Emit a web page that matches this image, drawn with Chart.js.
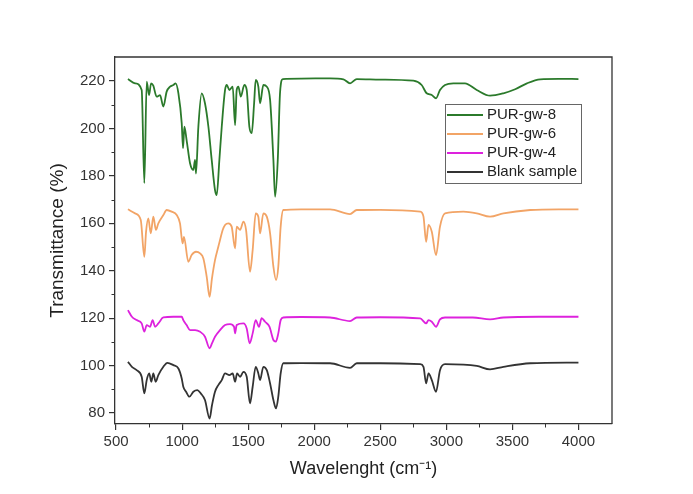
<!DOCTYPE html>
<html>
<head>
<meta charset="utf-8">
<script src="https://cdn.jsdelivr.net/npm/chart.js@4"></script>
<style>
  body { margin: 0; background: #fff; }
  canvas { display: block; }
</style>
</head>
<body>
<canvas id="ftir" width="693" height="494"></canvas>
<script>
// FTIR spectra
const xTicks = [500, 1000, 1500, 2000, 2500, 3000, 3500, 4000];
const yTicks = [80, 100, 120, 140, 160, 180, 200, 220];
const xMinor = [750, 1250, 1750, 2250, 2750, 3250, 3750];
const yMinor = [90, 110, 130, 150, 170, 190, 210];

const seriesNames = ["PUR-gw-8", "PUR-gw-6", "PUR-gw-4", "Blank sample"];
const seriesColors = ["#2b7a2b", "#f2a466", "#dd22dd", "#333333"];

const gw8Wn = [590, 644, 694, 714, 732, 750, 765, 782, 807, 833, 858, 883, 909, 934, 951, 972, 997, 1007, 1017, 1034,
    1060, 1085, 1098, 1105, 1123, 1148, 1173, 1199, 1224, 1249, 1262, 1282, 1300, 1325, 1338, 1358, 1383, 1401, 1413, 1426,
    1444, 1471, 1489, 1509, 1527, 1545, 1557, 1577, 1590, 1615, 1641, 1666, 1691, 1704, 1724, 1741, 1762, 1900, 2120, 2221,
    2271, 2322, 2500, 2750, 2813, 2851, 2890, 2922, 2952, 2990, 3053, 3141, 3230, 3331, 3432, 3521, 3610, 3711, 3850, 4000];
const gw8T = [220.8, 219, 216.2, 176.9, 219.7, 214, 219, 218, 213.4, 214, 209.2, 215.5, 217.6, 218.3, 219, 214.8, 202.2, 191.6, 200.7, 195.1,
    185.3, 182.5, 186.7, 181, 200.7, 214.8, 210.6, 200.7, 186.7, 174, 171.9, 186.7, 200.7, 216.2, 218.3, 216.2, 217.6, 201.4, 216.2, 217.6,
    213.4, 218.3, 216.2, 200.7, 198, 210.6, 220.4, 217.6, 210.6, 218.3, 217.6, 212, 186.7, 171.2, 186.7, 214.8, 220.8, 221, 221.1, 220.7,
    219, 220.8, 220.6, 220.1, 218.3, 214.8, 214.1, 212.7, 216.2, 218.3, 219, 219, 216.2, 213.8, 214.8, 216.5, 219, 220.7, 220.9, 220.8];

const gw6Wn = [590, 644, 687, 714, 727, 744, 763, 782, 802, 820, 858, 883, 921, 959, 984, 1004, 1014, 1047, 1072, 1105,
    1136, 1161, 1186, 1208, 1226, 1249, 1274, 1287, 1307, 1325, 1350, 1375, 1401, 1413, 1439, 1464, 1484, 1514, 1534, 1557,
    1577, 1590, 1615, 1641, 1666, 1691, 1711, 1728, 1746, 1766, 1900, 2120, 2271, 2322, 2500, 2802, 2827, 2847, 2865, 2890,
    2922, 2952, 2990, 3129, 3230, 3331, 3432, 3635, 3850, 4000];
const gw6T = [165.9, 164.2, 161.4, 145.9, 156.4, 162.1, 155.8, 162.8, 157.2, 160, 163.5, 165.6, 164.9, 163.5, 160, 151.5, 154.3, 143.8, 146.6, 148,
    147.3, 145.2, 137.5, 129, 136.8, 144.5, 150.1, 153, 157.2, 159.3, 160, 158.6, 149.4, 158.6, 157.2, 160.7, 157.2, 139.6, 148.7, 164.2,
    162.8, 155.8, 164.2, 162.8, 155.8, 141.7, 136.1, 141.7, 158.6, 165.6, 165.9, 165.9, 163.9, 165.6, 165.7, 164.9, 162.8, 152.2, 159.3, 156.4,
    146.6, 158.6, 164.2, 164.9, 164.2, 162.8, 164.2, 165.6, 165.9, 165.9];

const gw4Wn = [590, 620, 656, 694, 714, 732, 757, 777, 795, 820, 858, 934, 997, 1009, 1034, 1060, 1098, 1136, 1173, 1208,
    1226, 1249, 1287, 1325, 1363, 1393, 1401, 1413, 1464, 1489, 1511, 1534, 1557, 1582, 1602, 1628, 1661, 1691, 1709, 1728,
    1746, 1766, 1900, 2120, 2271, 2322, 2500, 2802, 2847, 2865, 2890, 2922, 2952, 2990, 3200, 3331, 3432, 3700, 4000];
const gw4T = [123.4, 120.6, 119.2, 117.8, 114.3, 117.1, 116.4, 119.2, 116.4, 117.8, 120.3, 120.6, 120.6, 119.2, 117.1, 115, 115, 114.3, 112.2, 107.3,
    109.4, 112.2, 115, 117.1, 117.5, 116.4, 113.6, 117.1, 117.8, 115.7, 109.4, 113.6, 119.2, 116.4, 120, 118.5, 116.4, 110.8, 110.1, 113.6,
    119.2, 120.3, 120.5, 120.3, 118.8, 120.3, 120.4, 119.9, 117.8, 119.2, 118.5, 116.4, 119.5, 120.3, 120.3, 119.5, 120.3, 120.6, 120.6];

const blankWn = [590, 620, 656, 694, 714, 732, 751, 767, 782, 800, 820, 858, 888, 934, 972, 997, 1009, 1030, 1055, 1085,
    1115, 1141, 1173, 1208, 1226, 1249, 1274, 1300, 1325, 1358, 1383, 1401, 1416, 1439, 1464, 1489, 1514, 1534, 1557, 1577,
    1590, 1615, 1641, 1666, 1691, 1711, 1728, 1746, 1766, 1900, 2120, 2271, 2322, 2500, 2802, 2827, 2847, 2865, 2890, 2922,
    2952, 2990, 3230, 3331, 3432, 3635, 4000];
const blankT = [101.6, 99.5, 98.1, 95.3, 88.3, 93.9, 96.7, 93.2, 96.7, 93.2, 96, 99.5, 101.2, 100.2, 98.8, 94.6, 91.1, 89, 86.9, 89,
    89.7, 88.3, 85.5, 77.7, 83.3, 89, 91.8, 93.9, 96.7, 96, 96.7, 93.2, 96.7, 95.3, 97.4, 95.3, 84.1, 91.1, 99.5, 96.7,
    93.9, 99.5, 98.1, 92.5, 85.5, 82, 86.9, 96.7, 101, 101.1, 101, 99.1, 101, 101, 100.6, 99.5, 92.5, 96.7, 93.9, 89,
    98.1, 100.6, 99.9, 98.4, 99.5, 101, 101.3];

const toPoints = (xs, ys) => xs.map((x, i) => ({ x, y: ys[i] }));
const allSeries = [toPoints(gw8Wn, gw8T), toPoints(gw6Wn, gw6T), toPoints(gw4Wn, gw4T), toPoints(blankWn, blankT)];

Chart.defaults.font.family = "'Liberation Sans', Arial, sans-serif";
Chart.defaults.color = "#333";

// Rahmen oben/rechts, Nebenstriche und Legende im Plot
const framePlugin = {
    id: "frame",
    afterDraw: (chart) => {
        const { ctx, chartArea: a, scales } = chart;
        ctx.save();
        ctx.strokeStyle = "#333";
        ctx.lineWidth = 1.3;
        ctx.beginPath();
        ctx.moveTo(a.left, a.top);
        ctx.lineTo(a.right, a.top);
        ctx.lineTo(a.right, a.bottom);
        ctx.stroke();

        ctx.lineWidth = 1;
        ctx.beginPath();
        xMinor.forEach(v => {
            const px = Math.round(scales.x.getPixelForValue(v)) + 0.5;
            ctx.moveTo(px, a.bottom);
            ctx.lineTo(px, a.bottom + 3.5);
        });
        yMinor.forEach(v => {
            const py = Math.round(scales.y.getPixelForValue(v)) + 0.5;
            ctx.moveTo(a.left, py);
            ctx.lineTo(a.left - 3.5, py);
        });
        ctx.stroke();

        // Legende
        const bx = a.left + 330, by = a.top + 47, bw = 136, bh = 79;
        ctx.strokeStyle = "#666";
        ctx.lineWidth = 1;
        ctx.strokeRect(bx + 0.5, by + 0.5, bw, bh);
        ctx.font = "15px 'Liberation Sans', Arial, sans-serif";
        ctx.textBaseline = "middle";
        ctx.fillStyle = "#222";
        seriesNames.forEach((name, i) => {
            const ry = by + 11 + i * 19;
            ctx.strokeStyle = seriesColors[i];
            ctx.lineWidth = 2;
            ctx.beginPath();
            ctx.moveTo(bx + 2, ry);
            ctx.lineTo(bx + 38, ry);
            ctx.stroke();
            ctx.fillText(name, bx + 42, ry);
        });
        ctx.restore();
    }
};

new Chart(document.getElementById("ftir"), {
    type: "line",
    data: {
        datasets: allSeries.map((pts, i) => ({
            label: seriesNames[i],
            data: pts,
            borderColor: seriesColors[i],
            borderWidth: 1.8,
            pointRadius: 0,
            cubicInterpolationMode: "monotone",
            fill: false,
        })),
    },
    options: {
        responsive: false,
        animation: false,
        layout: { padding: { left: 0, top: 57, right: 81, bottom: 0 } },
        plugins: { legend: { display: false }, tooltip: { enabled: false } },
        scales: {
            x: {
                type: "linear",
                min: 492,
                max: 4254,
                afterBuildTicks: (s) => { s.ticks = xTicks.map(v => ({ value: v })); },
                afterFit: (s) => { s.height = 70; },
                ticks: { callback: (v) => String(v), font: { size: 15 }, color: "#333", padding: 3, maxRotation: 0 },
                grid: { drawOnChartArea: false, tickLength: 6, color: "#333", lineWidth: 1.2 },
                border: { color: "#333", width: 1.3 },
                title: { display: true, text: "Wavelenght (cm⁻¹)", font: { size: 18 }, color: "#222", padding: { top: 0, bottom: 14 } },
            },
            y: {
                min: 75.4,
                max: 230.1,
                afterBuildTicks: (s) => { s.ticks = yTicks.map(v => ({ value: v })); },
                afterFit: (s) => { s.width = 115; },
                ticks: { callback: (v) => String(v), font: { size: 15 }, color: "#333", padding: 4 },
                grid: { drawOnChartArea: false, tickLength: 6, color: "#333", lineWidth: 1.2 },
                border: { color: "#333", width: 1.3 },
                title: { display: true, text: "Transmittance (%)", font: { size: 19 }, color: "#222", padding: { top: 46, bottom: 0 } },
            },
        },
    },
    plugins: [framePlugin],
});
</script>
</body>
</html>
